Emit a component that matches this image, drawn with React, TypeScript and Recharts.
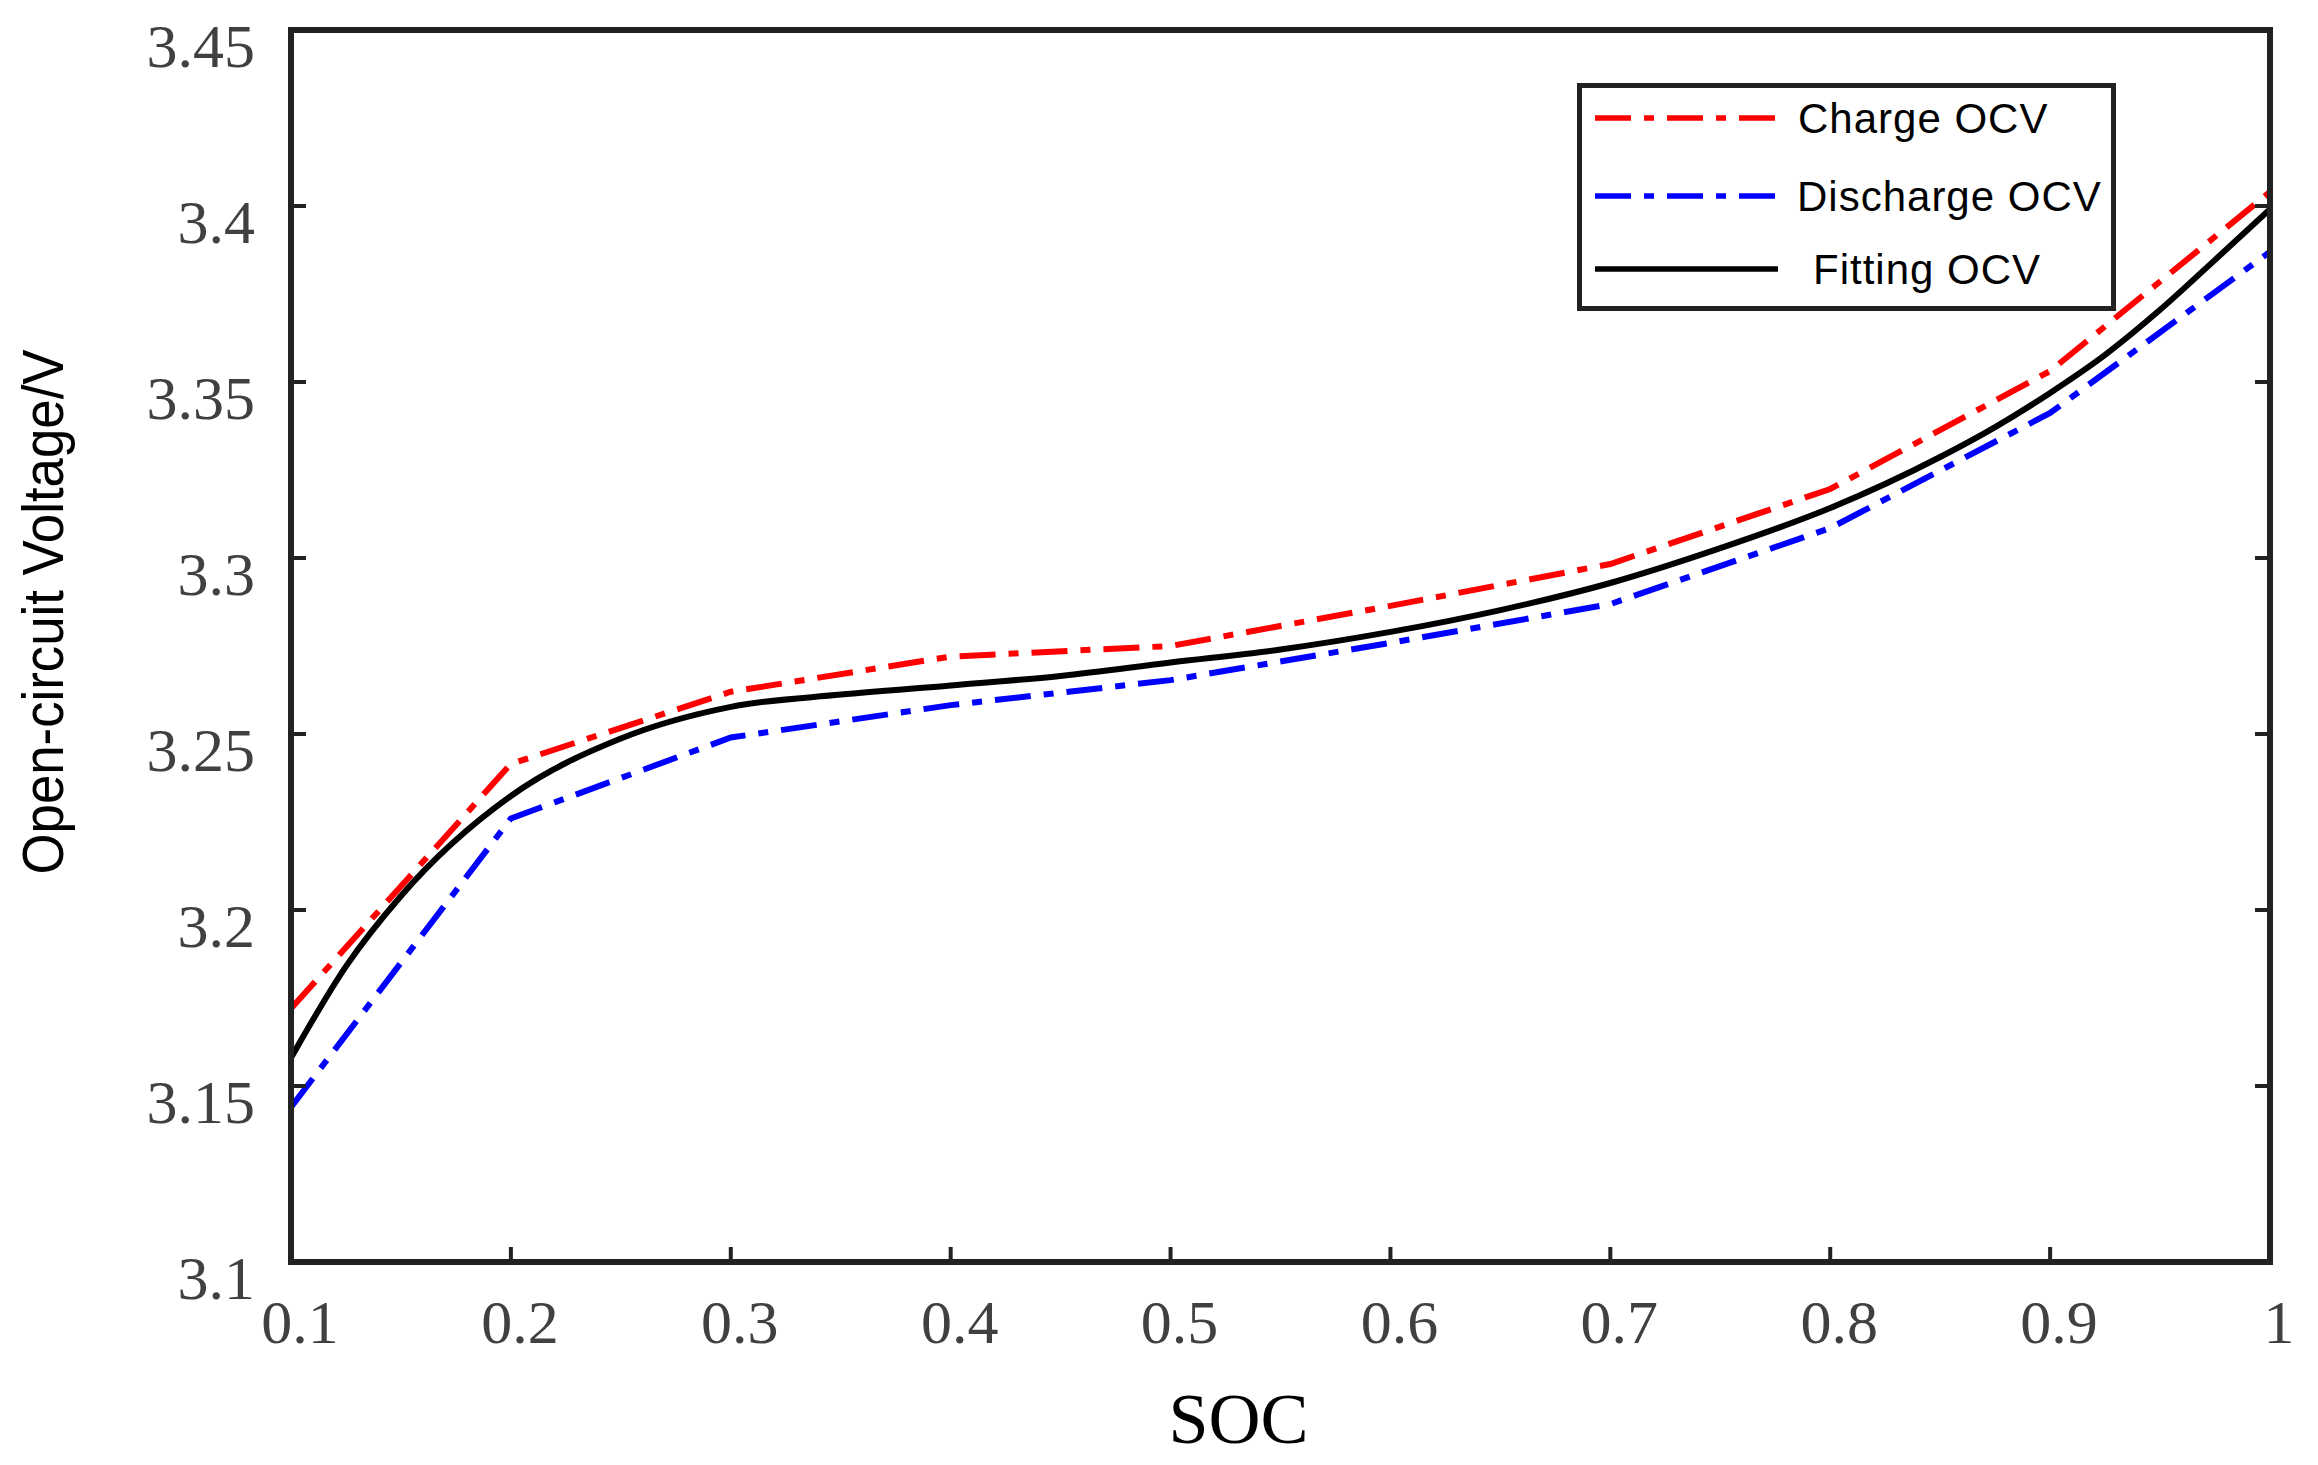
import React from 'react';
import { LineChart, Line, XAxis, YAxis, Legend } from 'recharts';

// ---- data ----
const socPoints = [0.1, 0.2, 0.3, 0.4, 0.5, 0.6, 0.7, 0.8, 0.9, 1.0];
const chargeOcv = [3.172, 3.2415, 3.262, 3.272, 3.275, 3.2864, 3.2983, 3.3196, 3.3531, 3.404];
const dischargeOcv = [3.144, 3.226, 3.249, 3.2582, 3.2653, 3.2759, 3.2869, 3.3085, 3.3412, 3.387];
const fitSoc = [0.1, 0.125, 0.15, 0.2, 0.25, 0.3, 0.35, 0.4, 0.45, 0.5, 0.55, 0.6, 0.65, 0.7, 0.75, 0.8, 0.85, 0.875, 0.9, 0.925, 0.95, 0.975, 1.0];
const fitOcv = [3.158, 3.184, 3.204, 3.2324, 3.2487, 3.2577, 3.2612, 3.2638, 3.2665, 3.2703, 3.274, 3.279, 3.2852, 3.2929, 3.3028, 3.3142, 3.3287, 3.3372, 3.3469, 3.3577, 3.3705, 3.3847, 3.3991];
const xTicks = [0.1, 0.2, 0.3, 0.4, 0.5, 0.6, 0.7, 0.8, 0.9, 1];
const yTicks = [3.1, 3.15, 3.2, 3.25, 3.3, 3.35, 3.4, 3.45];
const seriesNames = ['Charge OCV', 'Discharge OCV', 'Fitting OCV'];

const chargeData = socPoints.map((s, i) => ({ soc: s, v: chargeOcv[i] }));
const dischargeData = socPoints.map((s, i) => ({ soc: s, v: dischargeOcv[i] }));
const fitData = fitSoc.map((s, i) => ({ soc: s, v: fitOcv[i] }));

// ---- styles ----
const W = 2302;
const H = 1449;
const FRAME = '#222222';
const TICK_COLOR = '#404040';
const SERIF = '"Liberation Serif", "Times New Roman", serif';
const SANS = '"Liberation Sans", Arial, sans-serif';
const DASH = '36 13 10 13';
const TICK_LEN = 15;
const TICK_W = 4;
const axisLineStyle = { stroke: FRAME, strokeWidth: 6, strokeLinecap: 'square' as const };

const LeftTick = (props: any) => {
  const { x, y, payload } = props;
  return (
    <g>
      <line x1={x} x2={x + TICK_LEN} y1={y} y2={y} stroke={FRAME} strokeWidth={TICK_W} />
      <text x={x - 36} y={y + 37} textAnchor="end" fontFamily={SERIF} fontSize={62} fill={TICK_COLOR}>
        {String(payload.value)}
      </text>
    </g>
  );
};

const BottomTick = (props: any) => {
  const { x, y, payload } = props;
  return (
    <g>
      <line x1={x} x2={x} y1={y} y2={y - TICK_LEN} stroke={FRAME} strokeWidth={TICK_W} />
      <text x={x + 9} y={y + 81} textAnchor="middle" fontFamily={SERIF} fontSize={62} fill={TICK_COLOR}>
        {String(payload.value)}
      </text>
    </g>
  );
};

const TopTick = (props: any) => {
  const { x, y } = props;
  return <line x1={x} x2={x} y1={y} y2={y + TICK_LEN} stroke={FRAME} strokeWidth={TICK_W} />;
};

const RightTick = (props: any) => {
  const { x, y } = props;
  return <line x1={x} x2={x - TICK_LEN} y1={y} y2={y} stroke={FRAME} strokeWidth={TICK_W} />;
};

const YLabel = (props: any) => {
  const vb = props.viewBox || { x: 0, y: 22, width: 283, height: 1232 };
  const x = vb.x + 55;
  const y = vb.y + vb.height / 2 - 34;
  return (
    <text
      x={x}
      y={y}
      transform={`rotate(-90, ${x}, ${y})`}
      textAnchor="middle"
      fontFamily={SANS}
      fontSize={58}
      textLength={525}
      lengthAdjust="spacingAndGlyphs"
      fill="#000"
    >
      Open-circuit Voltage/V
    </text>
  );
};

const XLabel = (props: any) => {
  const vb = props.viewBox || { x: 283, y: 1254, width: 1979, height: 195 };
  const x = vb.x + vb.width / 2 - 42;
  const y = vb.y + 181;
  return (
    <text x={x} y={y} textAnchor="middle" fontFamily={SERIF} fontSize={72} fill="#000">
      SOC
    </text>
  );
};

const legendRows = [35, 113, 186];
const legendTextX = [221, 220, 236];

const LegendBox = (props: any) => {
  const payload = props.payload || [];
  return (
    <svg width={540} height={230} style={{ display: 'block', overflow: 'visible' }}>
      <rect x={2.5} y={2.5} width={534} height={223} fill="#ffffff" stroke={FRAME} strokeWidth={5} />
      {payload.map((p: any, i: number) => {
        const dash = p.payload && p.payload.strokeDasharray;
        return (
          <g key={`leg-${i}`}>
            <line x1={18} x2={201} y1={legendRows[i]} y2={legendRows[i]} stroke={p.color} strokeWidth={5.5} strokeDasharray={dash} />
            <text x={legendTextX[i]} y={legendRows[i] + 15} fontFamily={SANS} fontSize={42} letterSpacing={1} fill="#000">
              {p.value}
            </text>
          </g>
        );
      })}
    </svg>
  );
};

export default function App() {
  return (
    <div style={{ width: W, height: H, background: '#fff' }}>
      <style>{`.recharts-surface { overflow: visible; }`}</style>
      <LineChart width={W} height={H} margin={{ top: 21, right: 39, left: 0, bottom: 0 }}>
        <XAxis
          dataKey="soc"
          type="number"
          domain={[0.1, 1]}
          ticks={xTicks}
          interval={0}
          height={195}
          axisLine={axisLineStyle}
          tickLine={false}
          tickSize={0}
          tickMargin={0}
          tick={BottomTick}
          label={{ content: XLabel }}
          allowDataOverflow
        />
        <XAxis
          xAxisId="top"
          orientation="top"
          type="number"
          domain={[0.1, 1]}
          ticks={xTicks}
          interval={0}
          height={1}
          axisLine={axisLineStyle}
          tickLine={false}
          tickSize={0}
          tickMargin={0}
          tick={TopTick}
          allowDataOverflow
        />
        <YAxis
          type="number"
          domain={[3.1, 3.45]}
          ticks={yTicks}
          interval={0}
          width={283}
          axisLine={axisLineStyle}
          tickLine={false}
          tickSize={0}
          tickMargin={0}
          tick={LeftTick}
          label={{ content: YLabel }}
          allowDataOverflow
        />
        <YAxis
          yAxisId="right"
          orientation="right"
          type="number"
          domain={[3.1, 3.45]}
          ticks={yTicks}
          interval={0}
          width={1}
          axisLine={axisLineStyle}
          tickLine={false}
          tickSize={0}
          tickMargin={0}
          tick={RightTick}
          allowDataOverflow
        />
        <Legend
          layout="vertical"
          align="center"
          verticalAlign="middle"
          wrapperStyle={{ left: 1569, top: 75, width: 540, height: 230, margin: 0, padding: 0 }}
          content={LegendBox}
        />
        <Line
          data={chargeData}
          dataKey="v"
          name={seriesNames[0]}
          type="linear"
          stroke="#ff0000"
          strokeWidth={6}
          strokeDasharray={DASH}
          dot={false}
          activeDot={false}
          isAnimationActive={false}
        />
        <Line
          data={dischargeData}
          dataKey="v"
          name={seriesNames[1]}
          type="linear"
          stroke="#0000ff"
          strokeWidth={6}
          strokeDasharray={DASH}
          dot={false}
          activeDot={false}
          isAnimationActive={false}
        />
        <Line
          data={fitData}
          dataKey="v"
          name={seriesNames[2]}
          type="monotone"
          stroke="#000000"
          strokeWidth={6}
          dot={false}
          activeDot={false}
          isAnimationActive={false}
        />
      </LineChart>
    </div>
  );
}
